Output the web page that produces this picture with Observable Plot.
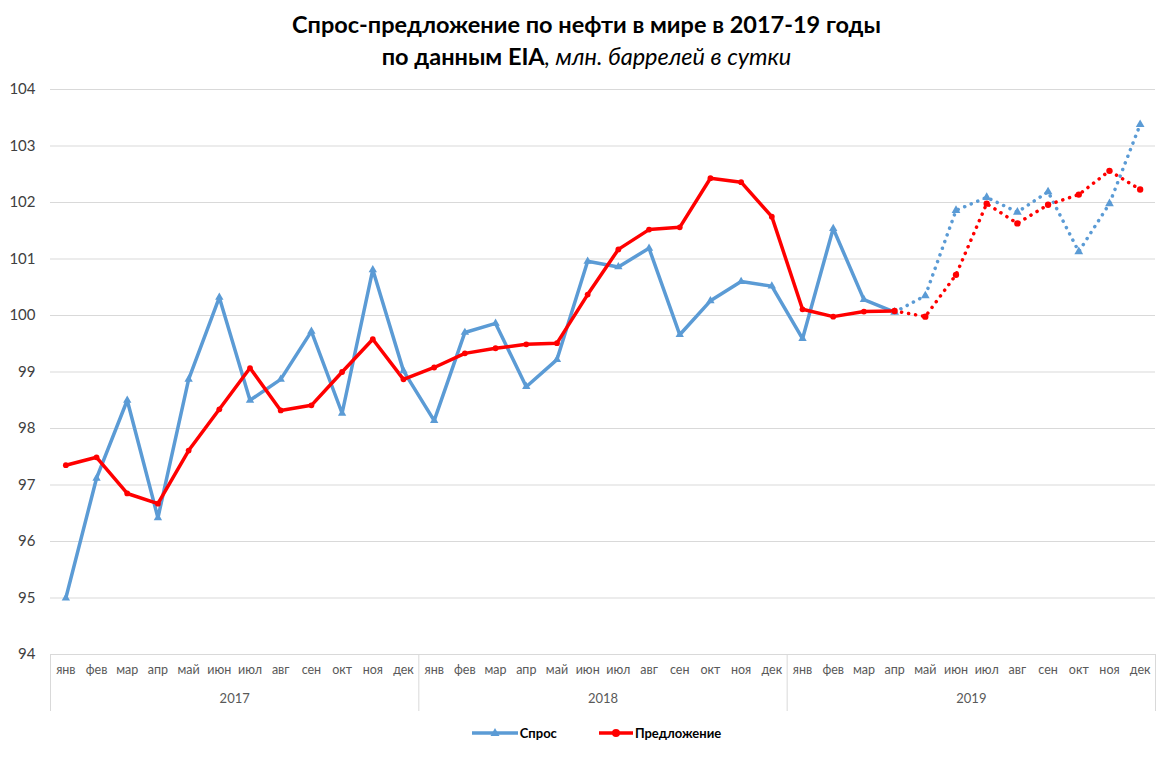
<!DOCTYPE html>
<html>
<head>
<meta charset="utf-8">
<script src="https://cdn.jsdelivr.net/npm/d3@7"></script>
<script src="https://cdn.jsdelivr.net/npm/@observablehq/plot@0.6"></script>
<style>
  body { margin: 0; background: #fff; font-family: Lato, "Open Sans", sans-serif; }
  #wrap { width: 1173px; }
  .title { height: 75px; box-sizing: border-box; padding-top: 8px; text-align: center; color: #000; }
  .title div { font-size: 23.5px; line-height: 32px; }
  .legend { display: flex; justify-content: center; align-items: center; gap: 42px; margin-top: 5px; padding-left: 20px; font-size: 13px; font-weight: bold; color: #000; }
  .legend span { display: flex; align-items: center; }
</style>
</head>
<body>
<div id="wrap">
  <div class="title">
    <div><b>Спрос-предложение по нефти в мире в 2017-19 годы</b></div>
    <div><b>по данным EIA</b><i>, млн. баррелей в сутки</i></div>
  </div>
  <div id="chart"></div>
  <div class="legend" id="legend"></div>
</div>
<script>
const months = ["янв","фев","мар","апр","май","июн","июл","авг","сен","окт","ноя","дек"];
const years = ["2017","2018","2019"];
const seriesNames = ["Спрос", "Предложение"];
const seriesColors = ["#5b9bd5", "#ff0000"];
const yTicks = [94, 95, 96, 97, 98, 99, 100, 101, 102, 103, 104];
const forecastStart = 27; // апр 2019

const demand = [
  95.00, 97.12, 98.50, 96.42, 98.87, 100.32, 98.50, 98.87, 99.72, 98.27, 100.81, 99.02,
  98.14, 99.70, 99.86, 98.74, 99.22, 100.96, 100.86, 101.19, 99.66, 100.26, 100.60, 100.52,
  99.59, 101.54, 100.28, 100.06, 100.35, 101.86, 102.09, 101.83, 102.19, 101.13, 101.98, 103.38
];
const supply = [
  97.35, 97.49, 96.85, 96.67, 97.61, 98.34, 99.07, 98.32, 98.41, 99.00, 99.58, 98.87,
  99.08, 99.33, 99.42, 99.49, 99.51, 100.37, 101.17, 101.52, 101.56, 102.43, 102.36, 101.75,
  100.11, 99.98, 100.07, 100.08, 99.98, 100.72, 101.98, 101.63, 101.96, 102.14, 102.56, 102.23
];

const rows = [];
[demand, supply].forEach((arr, s) => arr.forEach((v, i) => rows.push({i, v, s: seriesNames[s], fc: i >= forecastStart})));
const solid = rows.filter(d => d.i <= forecastStart);
const dotted = rows.filter(d => d.i >= forecastStart);
const monthRows = d3.range(36).map(i => ({i, label: months[i % 12]}));
const yearRows = years.map((y, k) => ({x: k * 12 + 5.5, label: y}));
const bounds = [0, 1, 2, 3].map(k => k * 12 - 0.5);

const W = 1173, H = 645, mT = 14, mB = 66, mL = 50, mR = 18;
const plotH = H - mT - mB;
const color = {domain: seriesNames, range: seriesColors};

const chart = Plot.plot({
  width: W, height: H,
  marginTop: mT, marginBottom: mB, marginLeft: mL, marginRight: mR,
  style: {fontFamily: 'Lato, "Open Sans", sans-serif', fontSize: "15px", color: "#404040", background: "#fff"},
  x: {domain: [-0.5, 35.5], axis: null},
  y: {domain: [94, 104], axis: null},
  color,
  marks: [
    Plot.ruleY(yTicks, {stroke: "#d9d9d9", strokeWidth: 1}),
    Plot.axisY({ticks: yTicks, tickSize: 0, tickPadding: 15, fontSize: 15, fill: "#404040", label: null}),
    Plot.ruleX(bounds, {stroke: "#d9d9d9", insetTop: plotH, insetBottom: -57}),
    Plot.text(monthRows, {x: "i", text: "label", frameAnchor: "bottom", dy: 19, fontSize: 12.5, fill: "#595959"}),
    Plot.text(yearRows, {x: "x", text: "label", frameAnchor: "bottom", dy: 48, fontSize: 13, fill: "#595959"}),
    Plot.line(solid, {x: "i", y: "v", z: "s", stroke: "s", strokeWidth: 3.5, strokeLinejoin: "round", strokeLinecap: "round"}),
    Plot.line(dotted, {x: "i", y: "v", z: "s", stroke: "s", strokeWidth: 3.5, strokeDasharray: "0.1 7", strokeLinecap: "round"}),
    Plot.dot(rows.filter(d => d.s === seriesNames[0]), {x: "i", y: "v", symbol: "triangle", fill: "s", r: d => d.fc ? 4.4 : 4}),
    Plot.dot(rows.filter(d => d.s === seriesNames[1]), {x: "i", y: "v", symbol: "circle", fill: "s", r: d => d.fc ? 4.2 : 3.5})
  ]
});
document.getElementById("chart").appendChild(chart);

// legend
const lg = document.getElementById("legend");
seriesNames.forEach((name, k) => {
  const sp = document.createElement("span");
  const w = k === 0 ? 46 : 34;
  const sym = k === 0
    ? `<path d="M23,3 L27.5,11 L18.5,11 Z" fill="${seriesColors[k]}"/>`
    : `<circle cx="17" cy="8" r="4" fill="${seriesColors[k]}"/>`;
  sp.innerHTML = `<svg width="${w}" height="16" style="margin-right:2px"><line x1="0" y1="8" x2="${w}" y2="8" stroke="${seriesColors[k]}" stroke-width="3.5"/>${sym}</svg>${name}`;
  lg.appendChild(sp);
});
</script>
</body>
</html>
